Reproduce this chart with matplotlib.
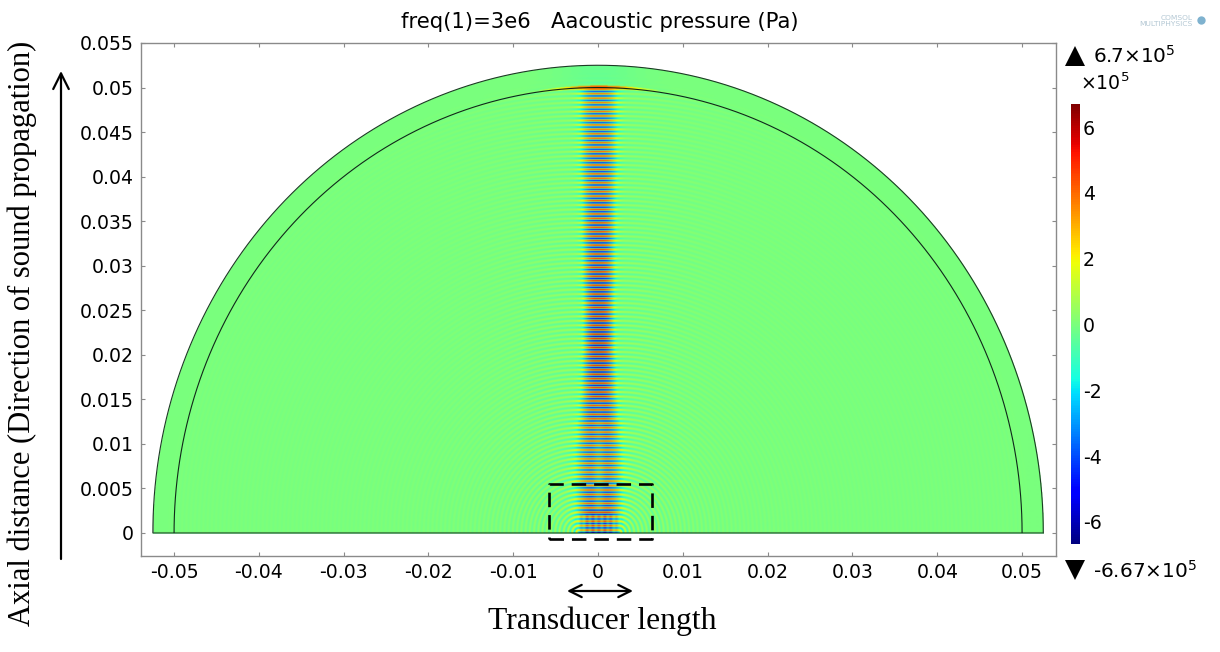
import numpy as np
import matplotlib
matplotlib.use('Agg')
import matplotlib.pyplot as plt
from matplotlib.cm import ScalarMappable
from matplotlib.colors import Normalize
from matplotlib.lines import Line2D
from matplotlib.transforms import Affine2D

W, H = 1220, 652

# values, one per axial station (m)
axial_stations = [0, 0.0025, 0.005, 0.0075, 0.01, 0.0125, 0.015, 0.0175, 0.02, 0.0225, 0.025,
                  0.0275, 0.03, 0.0325, 0.035, 0.0375, 0.04, 0.0425, 0.045, 0.0475, 0.05, 0.0525]
beam_halfwidth = [0.0024, 0.0024, 0.0025, 0.0026, 0.0026, 0.0024, 0.0021, 0.0019, 0.0018, 0.0017, 0.0017,
                  0.0017, 0.0018, 0.0018, 0.0019, 0.0019, 0.0020, 0.0021, 0.0021, 0.0022, 0.0022, 0.0022]
beam_peak = [6.0, 6.2, 5.5, 5.0, 5.0, 5.2, 5.6, 5.8, 6.0, 6.2, 6.0,
             5.8, 5.8, 5.5, 5.5, 5.2, 5.0, 5.0, 4.8, 4.6, 4.5, 0.6]
beam_notch = [0.05, 0.15, 0.35, 0.4, 0.3, 0.2, 0.1, 0, 0, 0, 0,
              0, 0, 0, 0, 0, 0, 0, 0, 0, 0, 0]
side_level = [1.4, 1.4, 1.3, 1.3, 1.2, 1.2, 1.1, 1.1, 1.0, 1.0, 1.0,
              0.9, 0.9, 0.9, 0.8, 0.8, 0.8, 0.8, 0.8, 0.8, 0.8, 0.2]

wavelength = 0.0005  # 1500 m/s at freq 3e6
transducer_half = 0.0024
inner_radius = 0.05
outer_radius = 0.0525
color_min, color_max = -6.67, 6.7

x_ticks = [-0.05, -0.04, -0.03, -0.02, -0.01, 0, 0.01, 0.02, 0.03, 0.04, 0.05]
x_tick_labels = ['-0.05', '-0.04', '-0.03', '-0.02', '-0.01', '0', '0.01', '0.02', '0.03', '0.04', '0.05']
y_ticks = [0, 0.005, 0.01, 0.015, 0.02, 0.025, 0.03, 0.035, 0.04, 0.045, 0.05, 0.055]
y_tick_labels = ['0', '0.005', '0.01', '0.015', '0.02', '0.025', '0.03', '0.035', '0.04', '0.045', '0.05', '0.055']
cbar_ticks = [-6, -4, -2, 0, 2, 4, 6]
box_x = [-0.0058, 0.0064]
box_y = [-0.0007, 0.0055]

FS = 13.6
GRAY = '#8a8a8a'


def px_axes(fig, left, top, right, bottom):
    # axes placed with picture pixels
    return fig.add_axes([left / W, 1 - bottom / H, (right - left) / W, (bottom - top) / H])


def box_blur(a, n, axis):
    # running mean, the reference is a soft upscaled screenshot
    c = np.cumsum(np.moveaxis(a, axis, 0), axis=0)
    out = np.array(c)
    out[n:] = c[n:] - c[:-n]
    return np.moveaxis(out / n, 0, axis)


# the stripes are a wave term, only the envelope comes from the arrays above
xs = np.arange(-outer_radius, outer_radius + 5e-5, 5e-5)
ys = np.arange(0, outer_radius + 5e-5, 5e-5)
X, Y = np.meshgrid(xs, ys)
R = np.hypot(X, Y)
D = np.hypot(np.maximum(np.abs(X) - transducer_half, 0), Y)
idx = np.clip(np.searchsorted(axial_stations, D), 0, len(axial_stations) - 1)
hw = np.array(beam_halfwidth)[idx]
peak = np.array(beam_peak)[idx]
notch = np.array(beam_notch)[idx]
side = np.array(side_level)[idx]

lateral = np.exp(-np.abs(X / hw) ** 3) * (1 - notch * np.exp(-(X / 0.0007) ** 2))
fringe = np.where(D < 0.002, 0.85 + 0.15 * np.cos(2 * np.pi * X / 0.0007), 1)
halo = side * np.exp(-np.abs(X) / 0.006) * (1 - lateral) + 0.06 * (1 - lateral)
Z = -(peak * lateral * fringe + halo) * np.cos(2 * np.pi * D / wavelength)

# absorbing outer layer, almost no wave left, small reflection at the interface
Z = np.where(R > inner_radius, Z * np.exp(-(R - inner_radius) / 0.0005) - 0.3 * np.exp(-(X / 0.005) ** 2), Z)
streak = (np.abs(R - inner_radius) < 0.00016) & (np.abs(X) < 0.007)
Z = np.where(streak, 4.0 * np.exp(-(X / 0.005) ** 2), Z)

norm = Normalize(color_min, color_max)
rgba = plt.get_cmap('jet')(norm(Z))
rgba = box_blur(box_blur(rgba, 3, 0), 3, 1)
rgba[..., 3] = (R <= outer_radius).astype(float)

fig = plt.figure(figsize=(W / 100, H / 100), dpi=100)
ax = px_axes(fig, 141, 43, 1056, 556)

ax.imshow(rgba, origin='lower', extent=[xs[0], xs[-1], ys[0], ys[-1]], aspect='auto',
          interpolation='antialiased', interpolation_stage='rgba')

# geometry lines
theta = np.linspace(0, np.pi, 600)
ax.plot(outer_radius * np.cos(theta), outer_radius * np.sin(theta), color='#1c3a24', lw=0.8)
ax.plot(inner_radius * np.cos(theta), inner_radius * np.sin(theta), color='#10281a', lw=0.8)
ax.plot([-outer_radius, outer_radius], [0, 0], color='#5a9a6a', lw=0.7)

# dashed box around the near field
ax.plot([box_x[0], box_x[1], box_x[1], box_x[0], box_x[0]],
        [box_y[0], box_y[0], box_y[1], box_y[1], box_y[0]],
        color='black', lw=1.9, ls=(0, (5.5, 3)), clip_on=False, zorder=5)

ax.set_xlim(-0.0539, 0.054)
ax.set_ylim(-0.0026, 0.055)
ax.set_xticks(x_ticks)
ax.set_xticklabels(x_tick_labels, fontsize=FS)
ax.set_yticks(y_ticks)
ax.set_yticklabels(y_tick_labels, fontsize=FS)
ax.tick_params(direction='in', top=True, right=True, length=3, width=0.8, color=GRAY, pad=5)
for spine in ax.spines.values():
    spine.set_color(GRAY)
    spine.set_linewidth(1.0)

# colour bar
cax = px_axes(fig, 1071, 104, 1080, 544)
cbar = fig.colorbar(ScalarMappable(norm=norm, cmap='jet'), cax=cax)
cbar.set_ticks(cbar_ticks)
cbar.set_ticklabels([str(t) for t in cbar_ticks], fontsize=FS)
cbar.ax.tick_params(length=0, pad=2)
cbar.outline.set_visible(False)

# everything below is placed with picture pixels
to_fig = Affine2D().scale(1 / W, -1 / H).translate(0, 1) + fig.transFigure


def px_text(x, y, s, **kw):
    fig.text(x, y, s, transform=to_fig, **kw)


px_text(600, 22, 'freq(1)=3e6   Aacoustic pressure (Pa)', fontsize=15.2, ha='center', va='center')

px_text(1093, 56, '6.7×10$^5$', fontsize=14.4, ha='left', va='center')
px_text(1080, 83, '×10$^5$', fontsize=FS, ha='left', va='center')
px_text(1093, 571, '-6.67×10$^5$', fontsize=14.4, ha='left', va='center')
fig.add_artist(Line2D([1074.5], [56], marker='^', ms=15, color='black', mew=0, transform=to_fig))
fig.add_artist(Line2D([1074.5], [570], marker='v', ms=15, color='black', mew=0, transform=to_fig))

# faint software mark
px_text(1193, 21, 'COMSOL\nMULTIPHYSICS', fontsize=5.4, color='#b4c8d4', ha='right', va='center',
        ma='right', linespacing=0.95)
fig.add_artist(Line2D([1201], [20], marker='o', ms=6, color='#7fb2cf', mew=0, transform=to_fig))

# hand added notes on the figure
serif = 'Liberation Serif'
px_text(22, 333, 'Axial distance (Direction of sound propagation)', fontsize=22, family=serif,
        rotation=90, ha='center', va='center')
px_text(602, 621, 'Transducer length', fontsize=22.8, family=serif, ha='center', va='center')
ax.annotate('', xy=(61 / W, 1 - 71 / H), xytext=(61 / W, 1 - 559 / H), xycoords='figure fraction',
            textcoords='figure fraction', annotation_clip=False,
            arrowprops=dict(arrowstyle='->', color='black', lw=1.6, mutation_scale=28, shrinkA=0, shrinkB=0))
ax.annotate('', xy=(633 / W, 1 - 591 / H), xytext=(567 / W, 1 - 591 / H), xycoords='figure fraction',
            textcoords='figure fraction', annotation_clip=False,
            arrowprops=dict(arrowstyle='<->', color='black', lw=1.6, mutation_scale=22, shrinkA=0, shrinkB=0))

fig.savefig('out.png', dpi=100)
